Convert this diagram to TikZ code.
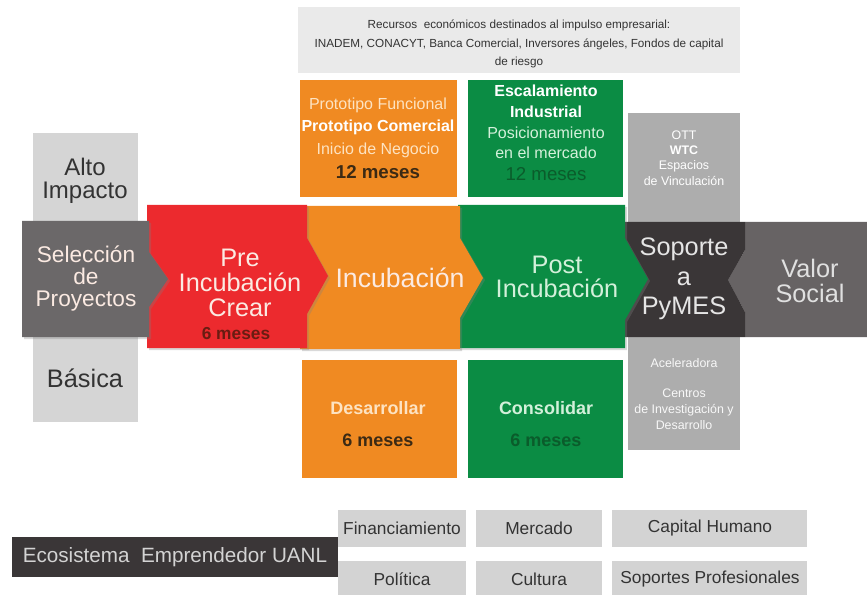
\documentclass[tikz,border=0pt]{standalone}
\usepackage{fontspec}
\setmainfont{Liberation Sans}
\usetikzlibrary{shadows}
\definecolor{rojo}{HTML}{EC2A2E}
\definecolor{naranja}{HTML}{F08A22}
\definecolor{verde}{HTML}{0B8C44}
\definecolor{grisfondo}{HTML}{6B6869}
\definecolor{grisvalor}{HTML}{676364}
\definecolor{grissoporte}{HTML}{3A3637}
\definecolor{grisarriba}{HTML}{EAEAEA}
\definecolor{grislado}{HTML}{D5D5D5}
\definecolor{grismedio}{HTML}{ADADAD}
\definecolor{grisbox}{HTML}{D3D3D3}
\definecolor{textoclaro}{HTML}{FBEAE2}
\definecolor{crema}{HTML}{FDE3C2}
\definecolor{verdeclaro}{HTML}{D3F0DA}
\definecolor{cafe}{HTML}{3C2A14}
\definecolor{verdeosc}{HTML}{0A5C2B}
\definecolor{rojoosc}{HTML}{6A1C12}
\definecolor{textogris}{HTML}{333333}
\begin{document}
\begin{tikzpicture}[x=0.75pt,y=-0.75pt,
        every node/.style={inner sep=0pt, align=center},
        sombra/.style={drop shadow={shadow xshift=1.5pt,shadow yshift=-1.5pt,opacity=.3}},
        etapa/.style={text=textoclaro, font=\fontsize{19}{18.5}\selectfont},
        caja/.style={text=textogris, font=\fontsize{13}{15}\selectfont}]
        \path[use as bounding box] (0,0) rectangle (867,595);

        \fill[grisarriba] (298,7) rectangle (740,73);
        \node[text=textogris, font=\fontsize{8.8}{14}\selectfont] (recursos) at (519,44) {Recursos \ económicos destinados al impulso empresarial:\\INADEM, CONACYT, Banca Comercial, Inversores ángeles, Fondos de capital\\de riesgo};

        \fill[naranja] (300,80) rectangle (457,197);
        \fill[verde] (468,80) rectangle (623,197);
        \fill[grislado] (33,133) rectangle (138,422);
        \fill[grismedio] (628,113) rectangle (740,450);
        \fill[naranja] (302,360) rectangle (457,478);
        \fill[verde] (468,360) rectangle (623,478);

        \node[text=crema, font=\fontsize{12}{17}\selectfont] (prototipo) at (378,138) {Prototipo Funcional\\\textcolor{white}{\bfseries Prototipo Comercial}\\Inicio de Negocio\\[1pt]\textcolor{cafe}{\fontsize{14}{17}\selectfont\bfseries 12 meses}};
        \node[text=verdeclaro, font=\fontsize{12}{15.5}\selectfont] (escalamiento) at (546,133) {\textcolor{white}{\bfseries Escalamiento}\\\textcolor{white}{\bfseries Industrial}\\Posicionamiento\\en el mercado\\[1pt]\textcolor{verdeosc}{\fontsize{14}{17}\selectfont 12 meses}};
        \node[text=white, font=\fontsize{9.3}{11.5}\selectfont] (ott) at (684,158) {OTT\\\textbf{WTC}\\Espacios\\de Vinculación};
        \node[text=white!92!grismedio, font=\fontsize{9.3}{11.5}\selectfont] (acel) at (684,363) {Aceleradora};
        \node[text=white!92!grismedio, font=\fontsize{9.3}{12}\selectfont] (centros) at (684,409) {Centros\\de Investigación y\\Desarrollo};
        \node[text=textogris, font=\fontsize{18}{17.5}\selectfont] (alto) at (85,181) {Alto\\Impacto};
        \node[text=textogris, font=\fontsize{19}{15}\selectfont] (basica) at (85,378) {Básica};

        \fill[grisvalor] (745,222) -- (867,222) -- (867,337) -- (745,337) -- (745,312) -- (728,280) -- (745,250) -- cycle;
        \fill[grissoporte] (620,222) -- (745,222) -- (745,250) -- (728,280) -- (745,312) -- (745,337) -- (620,337) -- cycle;
        \fill[verde,sombra] (458,205) -- (625,205) -- (625,238) -- (648,279) -- (625,320) -- (625,348) -- (458,348) -- cycle;
        \fill[naranja,sombra] (300,206) -- (460,206) -- (460,238) -- (483,278) -- (460,318) -- (460,349) -- (300,349) -- cycle;
        \fill[rojo,sombra] (147,205) -- (307,205) -- (307,238) -- (328,276) -- (307,314) -- (307,348) -- (147,348) -- cycle;
        \fill[grisfondo,sombra] (22,221) -- (149,221) -- (149,252) -- (168,279) -- (149,307) -- (149,337) -- (22,337) -- cycle;

        \node[etapa, font=\fontsize{17}{16.5}\selectfont] (seleccion) at (86,279) {Selección\\de\\Proyectos};
        \node[etapa] (preincubacion) at (240,283) {Pre\\Incubación\\Crear};
        \node[text=rojoosc, font=\fontsize{13}{15}\selectfont\bfseries] (seismeses) at (236,334) {6 meses};
        \node[etapa, font=\fontsize{20}{18}\selectfont] (incubacion) at (400,278) {Incubación};
        \node[etapa, text=verdeclaro] (postincubacion) at (557,277) {Post\\Incubación};
        \node[etapa, text=white!90!black, font=\fontsize{19}{22}\selectfont] (soporte) at (684,279) {Soporte\\a\\PyMES};
        \node[etapa, text=white!88!black] (valor) at (810,281) {Valor\\Social};

        \node[text=crema, font=\fontsize{13.5}{24}\selectfont\bfseries] (desarrollar) at (378,424) {Desarrollar\\\textcolor{cafe}{6 meses}};
        \node[text=verdeclaro, font=\fontsize{13.5}{24}\selectfont\bfseries] (consolidar) at (546,424) {Consolidar\\\textcolor{verdeosc}{6 meses}};

        \fill[grissoporte] (12,537) rectangle (338,577);
        \node[text=grisbox, font=\fontsize{15.5}{17}\selectfont] (ecosistema) at (175,557) {Ecosistema \ Emprendedor UANL};
        \fill[grisbox] (338,510) rectangle (466,547);
        \fill[grisbox] (476,510) rectangle (602,547);
        \fill[grisbox] (612,510) rectangle (807,547);
        \fill[grisbox] (338,561) rectangle (466,595);
        \fill[grisbox] (476,561) rectangle (602,595);
        \fill[grisbox] (612,561) rectangle (807,595);
        \node[caja] (financiamiento) at (402,528) {Financiamiento};
        \node[caja] (mercado) at (539,528) {Mercado};
        \node[caja] (capital) at (710,528) {Capital Humano};
        \node[caja] (politica) at (402,579) {Política};
        \node[caja] (cultura) at (539,579) {Cultura};
        \node[caja] (soportes) at (710,579) {Soportes Profesionales};
    \end{tikzpicture}
\end{document}
